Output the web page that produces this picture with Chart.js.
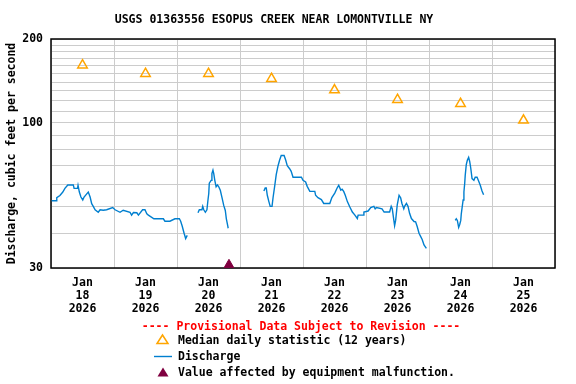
<!DOCTYPE html>
<html>
<head>
<meta charset="utf-8">
<script src="https://cdn.jsdelivr.net/npm/chart.js@4.4.1/dist/chart.umd.min.js"></script>
<style>
html, body { margin: 0; padding: 0; background: #fff; }
</style>
</head>
<body>
<canvas id="grafico" width="576" height="384"></canvas>
<script>
const tituloGrafico = 'USGS 01363556 ESOPUS CREEK NEAR LOMONTVILLE NY';
const tituloEjeY = 'Discharge, cubic feet per second';
const avisoProvisional = '---- Provisional Data Subject to Revision ----';
const leyendaTextos = ['Median daily statistic (12 years)', 'Discharge', 'Value affected by equipment malfunction.'];

// eje x: horas desde Jan 18 00:00
const mesEtiqueta = 'Jan';
const anioEtiqueta = '2026';
const diasEtiqueta = ['18', '19', '20', '21', '22', '23', '24', '25'];
const horasTicksX = [0, 12, 24, 36, 48, 60, 72, 84, 96, 108, 120, 132, 144, 156, 168, 180, 192];
const valoresTicksY = [30, 40, 50, 60, 70, 80, 90, 100, 110, 120, 130, 140, 150, 160, 170, 180, 190, 200];
const etiquetasY = [30, 100, 200];

// mediana diaria (12 años), al mediodia de cada dia
const medianaHoras = [12, 36, 60, 84, 108, 132, 156, 180];
const medianaCfs = [161, 150, 150, 144, 131, 121, 117, 102];

// valor afectado por falla de equipo
const fallaHoras = [67.8];
const fallaCfs = [30.8];

// caudal, tramos separados por huecos
const tramo1Horas = [0.25, 2.1, 2.2, 3.4, 4.5, 5.3, 6.4, 8.5, 8.8, 10.1, 10.3, 10.8, 11.4, 12.1, 12.6, 13.3, 14.2, 14.9, 15.5, 16.1, 16.8, 18.0, 18.7, 19.9, 21.2, 23.5, 24.4, 26.3, 27.5, 30.1, 30.7, 31.4, 32.7, 33.3, 34.9, 35.8, 36.5, 37.1, 39.2, 42.8, 43.4, 45.3, 47.2, 48.9, 49.4, 50.0, 50.7, 51.3, 51.9];
const tramo1Cfs = [52.4, 52.4, 53.7, 54.7, 56.3, 58, 59.7, 59.7, 58, 58, 59.5, 56.3, 54, 52.7, 54, 55, 56.3, 54, 51.1, 50, 48.6, 47.6, 48.6, 48.4, 48.6, 49.5, 48.6, 47.6, 48.4, 47.6, 46.5, 47.5, 47.4, 46.5, 48.6, 48.6, 47, 46.5, 45.1, 45.1, 44.2, 44.2, 45.1, 45.1, 44.2, 42.4, 40, 38.3, 39.3];
const tramo2Horas = [56.0, 56.5, 57.5, 57.8, 58.2, 58.8, 59.4, 59.8, 60.1, 60.3, 61.0, 61.3, 61.7, 62.0, 62.4, 62.9, 63.4, 63.9, 64.5, 65.1, 65.8, 66.4, 66.8, 67.3, 67.5];
const tramo2Cfs = [47.4, 48.6, 48.6, 50, 48.6, 47.6, 48.6, 52.7, 55.6, 60.6, 62, 65.6, 67.5, 65.6, 62, 58.8, 59.7, 58.8, 57.1, 54, 50.4, 48.3, 45.1, 42.7, 41.7];
const tramo3Horas = [81.1, 81.6, 82.0, 82.4, 83.0, 83.5, 84.2, 84.6, 85.2, 85.8, 86.5, 87.1, 87.7, 88.8, 89.4, 90.0, 90.9, 91.5, 92.2, 95.4, 96.0, 97.0, 97.6, 98.6, 100.5, 100.8, 101.7, 103.0, 103.9, 106.2, 107.0, 108.1, 109.0, 109.6, 110.4, 110.9, 111.5, 112.1, 112.9, 113.8, 114.8, 115.7, 116.7, 117.0, 118.9, 119.2, 120.8, 121.8, 123.0, 123.5, 124.0, 126.1, 126.9, 129.0, 129.6, 130.0, 130.6, 130.9, 131.3, 131.9, 132.6, 133.2, 133.7, 134.4, 134.7, 135.4, 136.0, 136.6, 137.3, 138.3, 138.9, 139.5, 140.2, 140.8, 141.4, 142.1, 143.0];
const tramo3Cfs = [56.8, 58.2, 58.2, 54.8, 52, 50, 50, 53.8, 59, 65, 70, 73.4, 76.2, 76.2, 73.4, 70, 68.3, 66.8, 63.6, 63.6, 62, 61.2, 59, 56.6, 56.6, 54.8, 53.7, 52.9, 51.2, 51.2, 53.8, 55.8, 58.2, 59.5, 57.2, 57.6, 56.6, 54.8, 52, 49.8, 47.7, 46.6, 45.2, 46.5, 46.5, 47.7, 48.1, 49.5, 50, 49, 49.5, 49, 47.7, 47.7, 50, 49, 44.6, 42.6, 44.6, 50.6, 54.8, 53.7, 51.2, 49, 50, 51.2, 50, 47.2, 45.2, 44.1, 44, 42.3, 40, 39, 38, 36.3, 35.3];
const tramo4Horas = [154.0, 154.4, 154.8, 155.3, 155.7, 156.1, 156.3, 157.0, 157.3, 157.6, 157.8, 158.2, 158.6, 159.1, 159.5, 159.9, 160.4, 161.1, 161.6, 162.3, 162.9, 163.5, 164.2, 164.8];
const tramo4Cfs = [44.5, 45.1, 44.5, 42, 43, 44.5, 47, 52.7, 56.3, 60.5, 64.6, 70.6, 73.2, 75, 72.5, 68.7, 62.9, 62, 63.6, 63.6, 61.7, 59.7, 56.8, 55];

const AZUL = '#007fcf';
const NARANJA = '#ffa500';
const GRANATE = '#800040';
const FAMILIA = '"DejaVu Sans Mono", "Liberation Mono", monospace';
const FUENTE = 'bold 11.5px ' + FAMILIA;

function armarPuntos(horas, valores) {
    return horas.map((h, i) => ({ x: h, y: valores[i] }));
}

function armarCaudal() {
    const tramos = [[tramo1Horas, tramo1Cfs], [tramo2Horas, tramo2Cfs], [tramo3Horas, tramo3Cfs], [tramo4Horas, tramo4Cfs]];
    let puntos = [];
    tramos.forEach((t, i) => {
        if (i > 0) {
            puntos.push({ x: (puntos[puntos.length - 1].x + t[0][0]) / 2, y: null });
        }
        puntos = puntos.concat(armarPuntos(t[0], t[1]));
    });
    return puntos;
}

const marcoYLeyenda = {
    id: 'marcoYLeyenda',
    beforeDatasetsDraw(chart) {
        const ctx = chart.ctx;
        const a = chart.chartArea;
        ctx.save();
        ctx.strokeStyle = '#000';
        ctx.lineWidth = 1.5;
        ctx.strokeRect(a.left, a.top, a.right - a.left, a.bottom - a.top);
        ctx.restore();
    },
    afterDraw(chart) {
        const ctx = chart.ctx;
        ctx.save();
        ctx.font = FUENTE;
        ctx.textBaseline = 'middle';
        ctx.fillStyle = '#000';
        ctx.textAlign = 'center';
        ctx.fillText(tituloGrafico, 274, 20);

        ctx.fillStyle = '#ff0000';
        ctx.fillText(avisoProvisional, 301, 327);

        ctx.textAlign = 'left';
        ctx.fillStyle = '#000';
        ctx.fillText(leyendaTextos[0], 178, 341);
        ctx.fillText(leyendaTextos[1], 178, 357);
        ctx.fillText(leyendaTextos[2], 178, 373);

        // triangulo mediana
        ctx.beginPath();
        ctx.moveTo(162.5, 335);
        ctx.lineTo(168, 343.5);
        ctx.lineTo(157, 343.5);
        ctx.closePath();
        ctx.strokeStyle = NARANJA;
        ctx.lineWidth = 1.5;
        ctx.stroke();

        // linea caudal
        ctx.beginPath();
        ctx.moveTo(154, 356.5);
        ctx.lineTo(172, 356.5);
        ctx.strokeStyle = AZUL;
        ctx.lineWidth = 1.4;
        ctx.stroke();

        // triangulo falla
        ctx.beginPath();
        ctx.moveTo(163, 367.5);
        ctx.lineTo(168.5, 376.5);
        ctx.lineTo(157.5, 376.5);
        ctx.closePath();
        ctx.fillStyle = GRANATE;
        ctx.fill();
        ctx.restore();
    }
};

function inicializarGrafico() {
    const ctx = document.getElementById('grafico').getContext('2d');
    new Chart(ctx, {
        data: {
            datasets: [
                {
                    type: 'line',
                    label: 'Discharge',
                    data: armarCaudal(),
                    borderColor: AZUL,
                    borderWidth: 1.4,
                    pointRadius: 0,
                    spanGaps: false,
                    tension: 0
                },
                {
                    type: 'scatter',
                    label: 'Median',
                    data: armarPuntos(medianaHoras, medianaCfs),
                    pointStyle: 'triangle',
                    pointRadius: 5.5,
                    borderColor: NARANJA,
                    backgroundColor: 'rgba(0,0,0,0)',
                    borderWidth: 1.5
                },
                {
                    type: 'scatter',
                    label: 'Falla',
                    data: armarPuntos(fallaHoras, fallaCfs),
                    pointStyle: 'triangle',
                    pointRadius: 5.5,
                    borderColor: GRANATE,
                    backgroundColor: GRANATE,
                    borderWidth: 1,
                    clip: false
                }
            ]
        },
        options: {
            responsive: false,
            animation: false,
            layout: { padding: { top: 39, right: 21, bottom: 66, left: 0 } },
            plugins: {
                legend: { display: false },
                tooltip: { enabled: false }
            },
            scales: {
                x: {
                    type: 'linear',
                    min: 0,
                    max: 192,
                    afterBuildTicks: s => { s.ticks = horasTicksX.map(v => ({ value: v })); },
                    afterFit: s => { s.height = 50; },
                    border: { display: false },
                    grid: {
                        color: c => (c.tick && c.tick.value % 24 === 0) ? '#cccccc' : 'rgba(0,0,0,0)',
                        lineWidth: 1,
                        drawTicks: false
                    },
                    ticks: {
                        autoSkip: false,
                        maxRotation: 0,
                        padding: 9,
                        color: '#000',
                        font: { family: FAMILIA, size: 11.5, weight: 'bold', lineHeight: 1.1 },
                        callback: function(value) {
                            if (value % 24 !== 12) return '';
                            const idx = (value - 12) / 24;
                            return [mesEtiqueta, diasEtiqueta[idx], anioEtiqueta];
                        }
                    }
                },
                y: {
                    type: 'logarithmic',
                    min: 30,
                    max: 200,
                    afterBuildTicks: s => { s.ticks = valoresTicksY.map(v => ({ value: v })); },
                    afterFit: s => { s.width = 51; },
                    border: { display: false },
                    grid: { color: '#cccccc', lineWidth: 1, drawTicks: false },
                    ticks: {
                        autoSkip: false,
                        padding: 8,
                        color: '#000',
                        font: { family: FAMILIA, size: 11.5, weight: 'bold' },
                        callback: v => etiquetasY.includes(v) ? String(v) : ''
                    },
                    title: {
                        display: true,
                        text: tituloEjeY,
                        color: '#000',
                        padding: { top: 5, bottom: 0 },
                        font: { family: FAMILIA, size: 11.5, weight: 'bold' }
                    }
                }
            }
        },
        plugins: [marcoYLeyenda]
    });
}
inicializarGrafico();
</script>
</body>
</html>
